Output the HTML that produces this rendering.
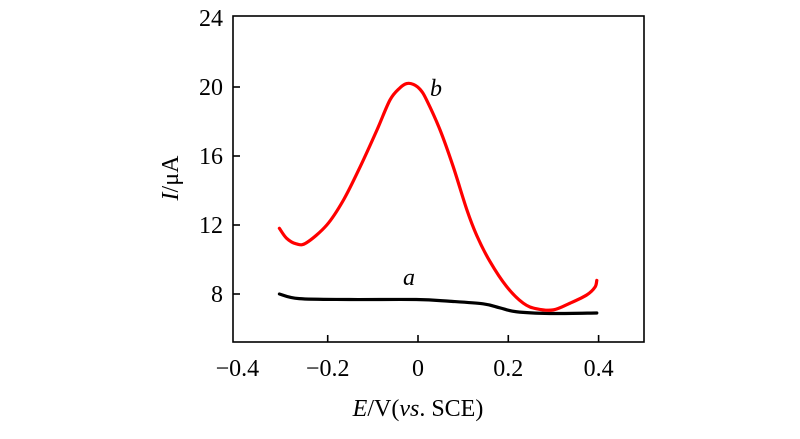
<!DOCTYPE html>
<html><head><meta charset="utf-8"><style>
html,body{margin:0;padding:0;background:#fff;}
svg text{font-family:"Liberation Serif",serif;fill:#000;}
</style></head><body>
<svg width="800" height="434" viewBox="0 0 800 434">
<g id="axes"></g>
<g id="series"></g>
<text x="436" y="96" font-size="24" font-style="italic" text-anchor="middle">b</text>
<text x="409" y="285" font-size="24" font-style="italic" text-anchor="middle">a</text>
<text transform="translate(178,178) rotate(-90)" font-size="24" text-anchor="middle"><tspan font-style="italic">I</tspan>/μA</text>
<text x="418" y="416" font-size="24" text-anchor="middle"><tspan font-style="italic">E</tspan>/V(<tspan font-style="italic">vs</tspan>. SCE)</text>
</svg>
<script>
const xTicks=[-0.4,-0.2,0,0.2,0.4];
const xTickLabels=["\u22120.4","\u22120.2","0","0.2","0.4"];
const yTicks=[8,12,16,20,24];
const yTickLabels=["8","12","16","20","24"];
const redX=[-0.307,-0.291,-0.269,-0.247,-0.202,-0.165,-0.128,-0.091,-0.062,-0.040,-0.025,-0.010,0.005,0.019,0.049,0.078,0.108,0.130,0.159,0.196,0.233,0.263,0.300,0.337,0.374,0.392,0.396];
const redY=[11.81,11.23,10.9,10.97,12.0,13.45,15.38,17.5,19.25,19.95,20.2,20.15,19.85,19.25,17.5,15.38,12.9,11.4,9.9,8.44,7.47,7.14,7.08,7.47,7.95,8.4,8.79];
const blackX=[-0.307,-0.263,-0.152,-0.004,0.070,0.144,0.181,0.218,0.292,0.396];
const blackY=[8.0,7.73,7.68,7.68,7.58,7.43,7.2,6.97,6.87,6.9];
const L=233,R=644,T=16,B=342;
function sx(v){return 418+v*451.5;}
function sy(v){return 294-(v-8)*17.25;}
const NS="http://www.w3.org/2000/svg";
const ax=document.getElementById('axes');
function mk(tag,attrs,parent){const e=document.createElementNS(NS,tag);for(const k in attrs)e.setAttribute(k,attrs[k]);parent.appendChild(e);return e;}
const fr=mk('rect',{x:L,y:T,width:R-L,height:B-T,fill:'none',stroke:'#000','stroke-width':1.6},ax);


xTicks.forEach((v,i)=>{
  const x=sx(v);
  if(x>L+6){const t=mk('line',{x1:x,x2:x,y1:B,y2:B-7,stroke:'#000','stroke-width':1.6},ax);
  
  }
  const lb=mk('text',{x:x,y:B+34,'font-size':24,'text-anchor':'middle'},ax);
  lb.textContent=xTickLabels[i];
  
  
});
yTicks.forEach((v,i)=>{
  const y=sy(v);
  if(y>T+3){const t=mk('line',{x1:L,x2:L+7,y1:y,y2:y,stroke:'#000','stroke-width':1.6},ax);
  
  }
  const lb=mk('text',{x:L-10,y:y+8,'font-size':24,'text-anchor':'end'},ax);
  lb.textContent=yTickLabels[i];
  
  
});
function path(xs,ys){
  const p=xs.map((v,i)=>[sx(v),sy(ys[i])]);
  let d='M'+p[0][0]+','+p[0][1];
  for(let i=0;i<p.length-1;i++){
    const p0=p[Math.max(0,i-1)],p1=p[i],p2=p[i+1],p3=p[Math.min(p.length-1,i+2)];
    const c1=[p1[0]+(p2[0]-p0[0])/6,p1[1]+(p2[1]-p0[1])/6];
    const c2=[p2[0]-(p3[0]-p1[0])/6,p2[1]-(p3[1]-p1[1])/6];
    d+=' C'+c1+' '+c2+' '+p2;
  }
  return d;
}
const sg=document.getElementById('series');
const bl=mk('path',{d:path(blackX,blackY),fill:'none',stroke:'#000','stroke-width':3.2,'stroke-linecap':'round'},sg);


const rd=mk('path',{d:path(redX,redY),fill:'none',stroke:'#ff0000','stroke-width':3.2,'stroke-linecap':'round'},sg);


</script>
</body></html>
